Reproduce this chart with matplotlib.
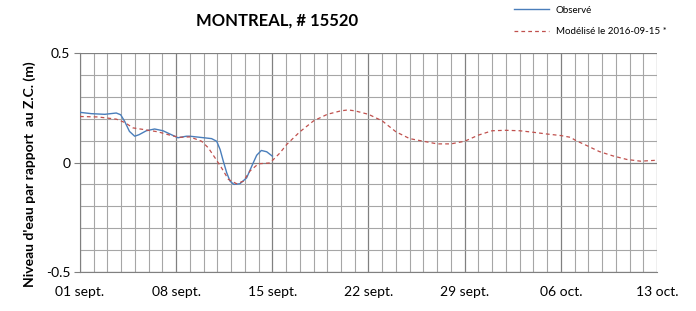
import matplotlib
matplotlib.use('Agg')
import matplotlib.pyplot as plt
from matplotlib.ticker import MultipleLocator

plt.rcParams['font.family'] = ['Lato', 'DejaVu Sans']

# observed water level (days since 01 sept., metres)
obs_days = [0, 0.83, 1.8, 2.64, 2.96, 3.25, 3.6, 3.98, 4.3, 4.83, 5.43, 6.04, 6.65,
            7.13, 7.74, 8.0, 8.73, 9.58, 9.95, 10.2, 10.43, 10.68, 10.92, 11.2,
            11.64, 12.13, 12.5, 12.86, 13.2, 13.59, 14.0]
obs_level = [0.229, 0.223, 0.22, 0.226, 0.218, 0.188, 0.142, 0.12, 0.127, 0.145,
             0.153, 0.145, 0.127, 0.113, 0.12, 0.12, 0.115, 0.109, 0.097, 0.059,
             0.006, -0.047, -0.085, -0.1, -0.097, -0.07, -0.017, 0.033, 0.055,
             0.049, 0.029]

# modelled water level
mod_days = [0, 1.3, 2.64, 3.25, 3.86, 4.7, 5.68, 6.65, 7.25, 8.0, 8.85, 9.34, 9.83,
            10.3, 10.8, 11.4, 11.9, 12.37, 12.98, 13.83, 14.56, 15.04, 16, 17, 18,
            19, 19.5, 20, 21, 22, 23, 24, 25, 26, 27, 28, 29, 30, 31, 32, 33, 34,
            35, 35.7, 36.1, 36.9, 37.8, 38.8, 39.8, 40.8, 41.9]
mod_level = [0.21, 0.208, 0.198, 0.183, 0.158, 0.15, 0.14, 0.123, 0.115, 0.117,
             0.097, 0.067, 0.021, -0.024, -0.077, -0.097, -0.085, -0.039, -0.006,
             -0.002, 0.044, 0.082, 0.14, 0.19, 0.22, 0.236, 0.24, 0.236, 0.22, 0.19,
             0.14, 0.109, 0.097, 0.085, 0.085, 0.097, 0.125, 0.145, 0.147, 0.145,
             0.138, 0.13, 0.123, 0.115, 0.10, 0.077, 0.05, 0.03, 0.014, 0.006, 0.01]

tick_days = [0, 7, 14, 21, 28, 35, 42]
tick_labels = ['01 sept.', '08 sept.', '15 sept.', '22 sept.', '29 sept.', '06 oct.', '13 oct.']

fig = plt.figure(figsize=(6.96, 3.11), dpi=100)
ax = fig.add_axes([80/696, 1 - 272/311, 577/696, 219/311])

ax.plot(obs_days, obs_level, color='#4a7ebb', lw=1.0, label='Observé', zorder=3)
ax.plot(mod_days, mod_level, color='#c0504d', lw=0.9, dashes=(3, 2.5),
        label='Modélisé le 2016-09-15 *', zorder=3)

ax.set_xlim(0, 42)
ax.set_ylim(-0.5, 0.5)
ax.set_xticks(tick_days)
ax.set_xticklabels(tick_labels)
ax.xaxis.set_minor_locator(MultipleLocator(1))
ax.set_yticks([-0.5, 0, 0.5])
ax.set_yticklabels(['-0.5', '0', '0.5'])
ax.yaxis.set_minor_locator(MultipleLocator(0.1))

ax.grid(which='minor', color='#a6a6a6', lw=0.8)
ax.grid(which='major', color='#808080', lw=0.9)
ax.set_axisbelow(True)
for s in ['top', 'right']:
    ax.spines[s].set_visible(False)
ax.spines['left'].set_color('#808080')
ax.spines['bottom'].set_color('#808080')
ax.tick_params(axis='x', which='both', length=0, pad=10, labelsize=10)
ax.tick_params(axis='y', which='major', length=4, color='#808080', pad=3, labelsize=10)
ax.tick_params(axis='y', which='minor', length=0)

ax.set_ylabel("Niveau d'eau par rapport  au Z.C. (m)", fontsize=10, fontweight='bold')
ax.yaxis.set_label_coords(-44/577, 0.447)

fig.text(277/696, 1 - 21/311, 'MONTREAL, # 15520', ha='center', va='center',
         fontsize=12, fontweight='bold')

fig.legend(loc='upper left', bbox_to_anchor=(505/696, 1.01), frameon=False,
           fontsize=7, handlelength=3.6, handletextpad=0.7, labelspacing=1.3)

fig.savefig('out.png', dpi=100)
